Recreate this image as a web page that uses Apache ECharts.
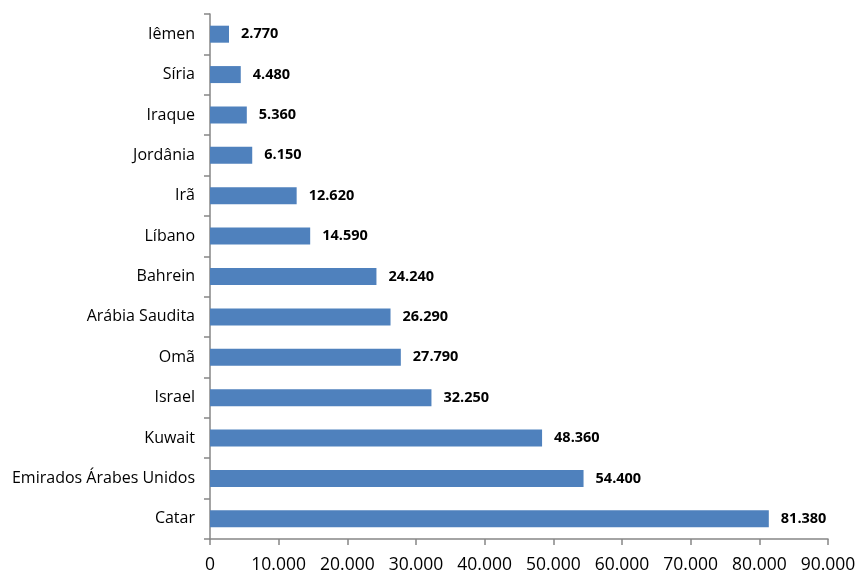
<!DOCTYPE html>
<html>
<head>
<meta charset="utf-8">
<script src="https://cdn.jsdelivr.net/npm/echarts@6/dist/echarts.min.js"></script>
<style>
    html, body { margin: 0; padding: 0; background: #fff; }
    #chart { width: 859px; height: 574px; }
</style>
</head>
<body>
<div id="chart"></div>
<script>
    // dados (de baixo para cima)
    var paises = ['Catar', 'Emirados Árabes Unidos', 'Kuwait', 'Israel', 'Omã', 'Arábia Saudita',
        'Bahrein', 'Líbano', 'Irã', 'Jordânia', 'Iraque', 'Síria', 'Iêmen'];
    var valores = [81380, 54400, 48360, 32250, 27790, 26290, 24240, 14590, 12620, 6150, 5360, 4480, 2770];

    function fmt(v) {
        if (v === 0) return '0';
        var s = String(Math.round(v));
        return s.replace(/\B(?=(\d{3})+(?!\d))/g, '.');
    }

    var chart = echarts.init(document.getElementById('chart'));
    var option = {
        animation: false,
        grid: {
            left: 210,
            right: 31,
            top: 14,
            bottom: 35
        },
        xAxis: {
            type: 'value',
            min: 0,
            max: 90000,
            interval: 10000,
            axisLine: {show: true, lineStyle: {color: '#868686', width: 1.5}},
            axisTick: {show: true, length: 6, lineStyle: {color: '#868686', width: 1.5}},
            splitLine: {show: false},
            axisLabel: {
                color: '#000',
                fontSize: 17.5,
                fontFamily: 'Open Sans',
                margin: 17,
                formatter: fmt
            }
        },
        yAxis: {
            type: 'category',
            data: paises,
            axisLine: {show: true, lineStyle: {color: '#868686', width: 1.5}},
            axisTick: {show: true, length: 6, lineStyle: {color: '#868686', width: 1.5}},
            axisLabel: {
                color: '#000',
                fontSize: 16,
                fontFamily: 'Open Sans',
                margin: 15
            }
        },
        series: [
            {
                type: 'bar',
                data: valores,
                barWidth: 17,
                itemStyle: {color: '#4F81BD'},
                label: {
                    show: true,
                    position: 'right',
                    distance: 12,
                    color: '#000',
                    fontSize: 14.5,
                    fontWeight: 'bold',
                    fontFamily: 'Open Sans',
                    formatter: function (p) { return fmt(p.value); }
                }
            }
        ]
    };
    chart.setOption(option);
</script>
</body>
</html>
